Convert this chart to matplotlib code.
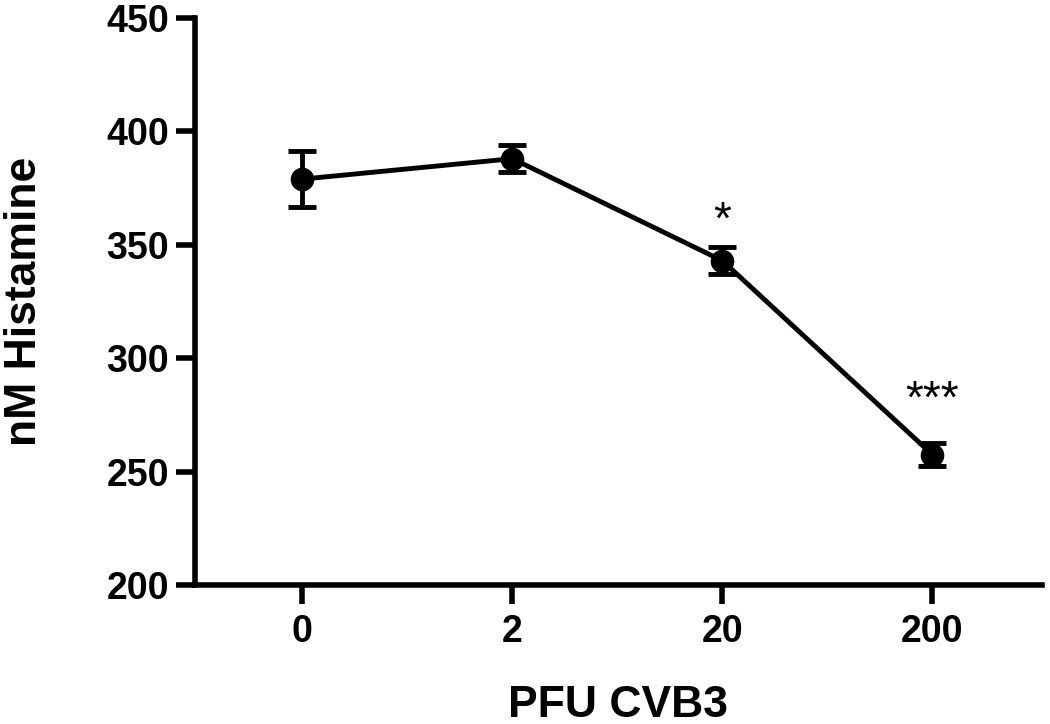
import matplotlib
matplotlib.use("Agg")
import matplotlib.pyplot as plt
import numpy as np

plt.rcParams["font.family"] = ["Liberation Sans", "DejaVu Sans"]
plt.rcParams["font.weight"] = "bold"

doses = ["0", "2", "20", "200"]
histamine = [379, 388, 343, 257.5]
sem = [12.5, 6, 6, 5]
stars = ["", "", "*", "***"]
star_y = [None, None, 355, 276]

x = np.arange(len(doses))

fig = plt.figure(figsize=(10.5, 7.24), dpi=100)
ax = fig.add_axes([0.186, 0.192, 0.806, 0.783])

ax.errorbar(x, histamine, yerr=sem, color="black", lw=3.5, marker="o",
            markersize=16, capsize=10, capthick=3.5, elinewidth=3.5)

for xi, s, sy in zip(x, stars, star_y):
    if s:
        ax.text(xi, sy, s, ha="center", va="baseline",
                fontsize=33, fontweight="normal")

ax.set_xlim(-0.51, 3.52)
ax.set_ylim(200, 450)
ax.set_yticks([200, 250, 300, 350, 400, 450])
ax.set_xticks(x)
ax.set_xticklabels(doses)

for side in ["top", "right"]:
    ax.spines[side].set_visible(False)
for side in ["left", "bottom"]:
    ax.spines[side].set_linewidth(4)

ax.tick_params(axis="both", width=4, length=14, labelsize=27, pad=5)
ax.tick_params(axis="x", pad=7)
ax.set_xlabel("PFU CVB3", fontsize=32, fontweight="bold", labelpad=25)
ax.set_ylabel("nM Histamine", fontsize=32, fontweight="bold", labelpad=44)

fig.savefig("out.png", dpi=100)
